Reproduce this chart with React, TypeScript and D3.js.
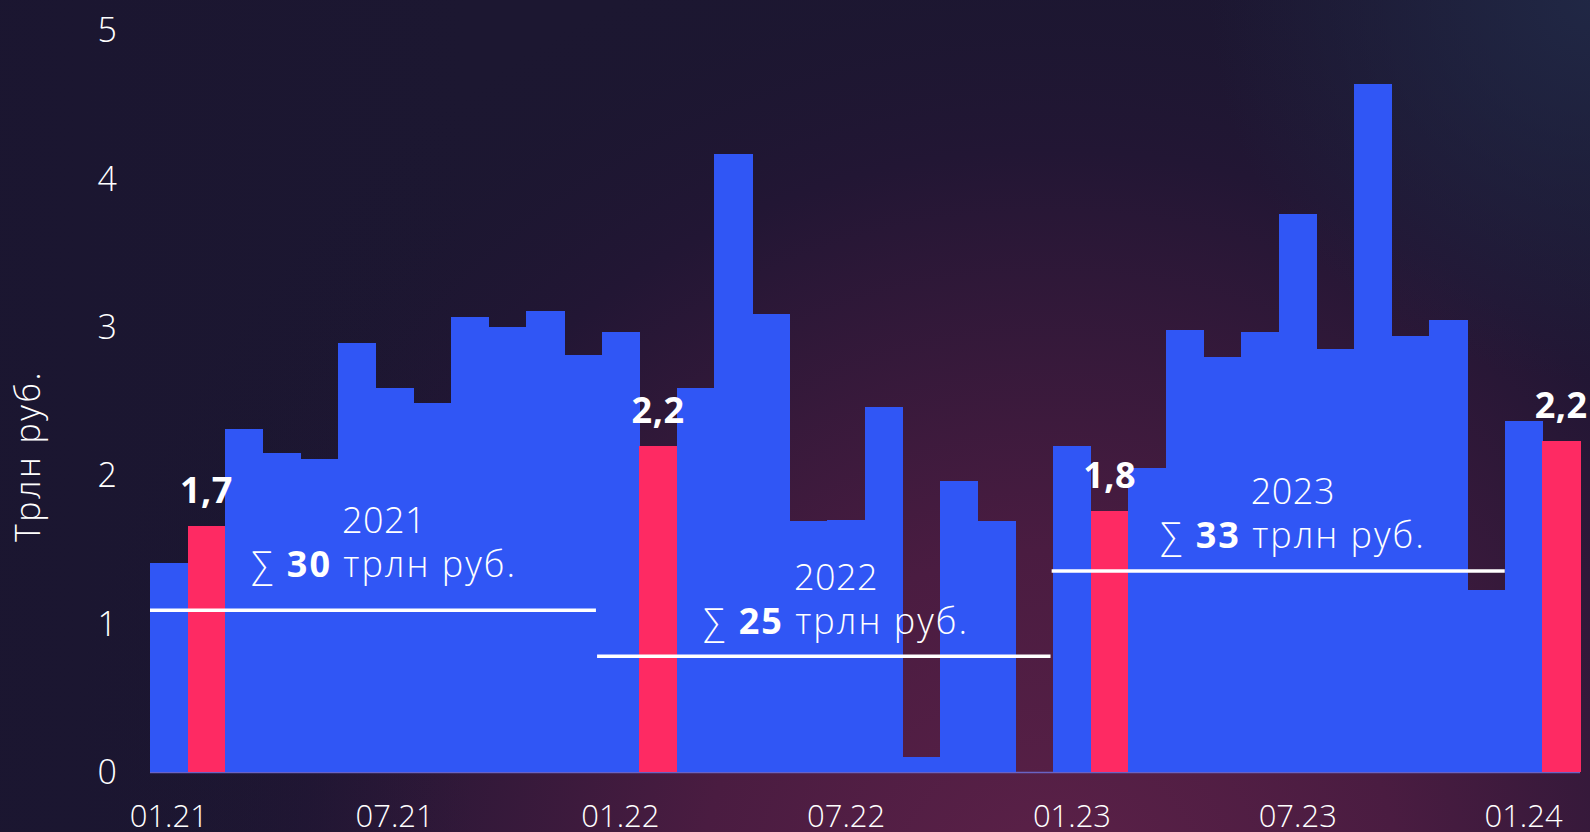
import React from "react";
import * as d3 from "d3";

const months = [
  "01.21","02.21","03.21","04.21","05.21","06.21","07.21","08.21","09.21","10.21","11.21","12.21",
  "01.22","02.22","03.22","04.22","05.22","06.22","07.22","08.22","09.22","10.22","11.22","12.22",
  "01.23","02.23","03.23","04.23","05.23","06.23","07.23","08.23","09.23","10.23","11.23","12.23",
  "01.24","02.24",
];
const values = [
  1.41, 1.66, 2.31, 2.15, 2.11, 2.89, 2.59, 2.49, 3.07, 3.0, 3.11, 2.81,
  2.97, 2.2, 2.59, 4.17, 3.09, 1.69, 1.7, 2.46, 0.1, 1.96, 1.69, 0.0,
  2.2, 1.76, 2.05, 2.98, 2.8, 2.97, 3.76, 2.85, 4.64, 2.94, 3.05, 1.23,
  2.37, 2.23,
];
const highlighted = ["02.21", "02.22", "02.23", "02.24"];
const highlightLabels = ["1,7", "2,2", "1,8", "2,2"];
const xTicks = ["01.21", "07.21", "01.22", "07.22", "01.23", "07.23", "01.24"];
const yTicks = [0, 1, 2, 3, 4, 5];
const years = ["2021", "2022", "2023"];
const yearSums = ["30", "25", "33"];
const yearLineValues = [1.09, 0.78, 1.355];
const yearLabelValues = [1.61, 1.23, 1.81];

const W = 1590;
const H = 832;
const BLUE = "#3056F5";
const RED = "#FE2A63";
const FONT = "'Open Sans', 'Noto Sans', sans-serif";

export default function App() {
  const x = d3.scaleBand<string>().domain(months).range([150, 1580]).padding(0);
  const y = d3.scaleLinear().domain([0, 5]).range([772, 30.5]);
  const bw = x.bandwidth();
  const lineStarts = [0, 11.88, 23.96];
  const lineEnds = [11.85, 23.93, 36.0];
  const labelCenters = [6.22, 18.23, 30.37];

  return (
    <svg width={W} height={H} style={{ position: "fixed", left: 0, top: 0, display: "block" }}>
      <defs>
        <radialGradient id="bgMag" cx="1050" cy="900" r="1000" gradientUnits="userSpaceOnUse">
          <stop offset="0" stopColor="#5c2148" />
          <stop offset="0.35" stopColor="#4a1c41" />
          <stop offset="0.75" stopColor="#221634" />
          <stop offset="1" stopColor="#1b1630" stopOpacity="0" />
        </radialGradient>
        <radialGradient id="bgBlue" cx="1590" cy="0" r="380" gradientUnits="userSpaceOnUse">
          <stop offset="0" stopColor="#212a48" stopOpacity="0.85" />
          <stop offset="1" stopColor="#212a48" stopOpacity="0" />
        </radialGradient>
        <linearGradient id="bgLeft" x1="0" y1="0" x2="1" y2="0">
          <stop offset="0" stopColor="#1a1530" stopOpacity="0.6" />
          <stop offset="0.3" stopColor="#1a1530" stopOpacity="0" />
        </linearGradient>
      </defs>
      <rect x={0} y={0} width={W} height={H} fill="#1c1731" />
      <rect x={0} y={0} width={W} height={H} fill="url(#bgMag)" />
      <rect x={0} y={0} width={W} height={H} fill="url(#bgBlue)" />
      <rect x={0} y={0} width={W} height={H} fill="url(#bgLeft)" />

      {/* baseline */}
      <line x1={150} x2={1580} y1={y(0) + 0.5} y2={y(0) + 0.5} stroke="#6a63c4" strokeWidth={1.5} />

      {/* bars */}
      <g shapeRendering="crispEdges">
        {months.map((m, i) => (
          <rect
            key={m}
            x={x(m)!}
            y={y(values[i])}
            width={bw + 0.6}
            height={y(0) - y(values[i])}
            fill={highlighted.includes(m) ? RED : BLUE}
          />
        ))}
      </g>

      {/* year lines */}
      {years.map((yr, k) => (
        <line
          key={yr}
          x1={150 + lineStarts[k] * bw}
          x2={150 + lineEnds[k] * bw}
          y1={y(yearLineValues[k])}
          y2={y(yearLineValues[k])}
          stroke="#ffffff"
          strokeWidth={3.5}
        />
      ))}

      {/* year labels */}
      {years.map((yr, k) => {
        const cx = 150 + labelCenters[k] * bw;
        const by = y(yearLabelValues[k]);
        return (
          <g key={"lbl" + yr} fill="#ffffff" fontFamily={FONT} fontSize={36} textAnchor="middle">
            <text x={cx} y={by} fontWeight={300} letterSpacing={0.5}>{yr}</text>
            <text x={cx} y={by + 44} fontWeight={300} letterSpacing={2}>
              ∑ <tspan fontWeight={700}>{yearSums[k]}</tspan> трлн руб.
            </text>
          </g>
        );
      })}

      {/* highlight labels */}
      {highlighted.map((m, k) => {
        const i = months.indexOf(m);
        return (
          <text
            key={"h" + m}
            x={x(m)! + bw / 2}
            y={y(values[i]) - 23}
            fill="#ffffff"
            fontFamily={FONT}
            fontWeight={700}
            fontSize={36}
            letterSpacing={0.5}
            textAnchor="middle"
          >
            {highlightLabels[k]}
          </text>
        );
      })}

      {/* y axis */}
      {yTicks.map((t) => (
        <text
          key={"y" + t}
          x={117}
          y={y(t)}
          dy="0.35em"
          fill="#ffffff"
          fontFamily={FONT}
          fontWeight={300}
          fontSize={34}
          textAnchor="end"
        >
          {t}
        </text>
      ))}

      {/* x axis */}
      {xTicks.map((t) => (
        <text
          key={"x" + t}
          x={x(t)! + bw / 2}
          y={827}
          fill="#ffffff"
          fontFamily={FONT}
          fontWeight={300}
          fontSize={31}
          textAnchor="middle"
        >
          {t}
        </text>
      ))}

      {/* y title */}
      <text
        transform={`translate(40, 456) rotate(-90)`}
        fill="#ffffff"
        fontFamily={FONT}
        fontWeight={300}
        fontSize={34}
        letterSpacing={2.5}
        textAnchor="middle"
      >
        Трлн руб.
      </text>
    </svg>
  );
}
